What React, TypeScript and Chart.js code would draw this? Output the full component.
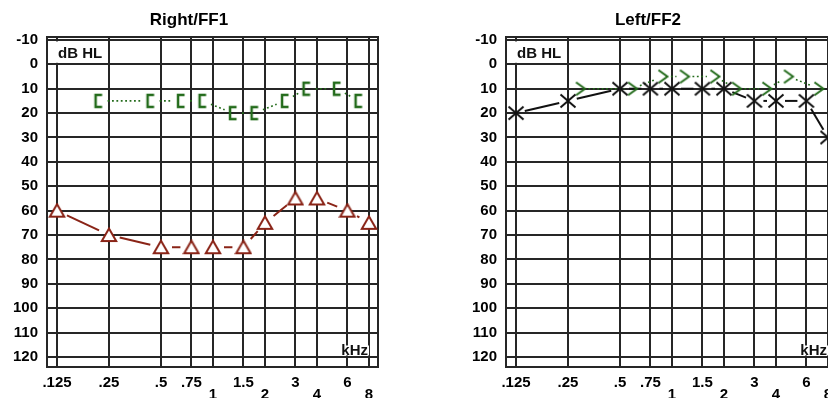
import React, { useEffect, useRef } from 'react';
import { Chart, registerables } from 'chart.js';

Chart.register(...registerables);

// ---------- data ----------
const FREQS = [0.125, 0.25, 0.5, 0.75, 1, 1.5, 2, 3, 4, 6, 8];
const FREQ_LABELS: (string | string[])[] = ['.125', '.25', '.5', '.75', ['', '1'], '1.5', ['', '2'], '3', ['', '4'], '6', ['', '8']];
const Y_TICKS = [-10, 0, 10, 20, 30, 40, 50, 60, 70, 80, 90, 100, 110, 120];

const RIGHT_TITLE = 'Right/FF1';
const LEFT_TITLE = 'Left/FF2';
const UNIT_LABEL = 'dB HL';
const FREQ_UNIT = 'kHz';

// Right/FF1 : triangles (air) and "[" (masked bone)
const RIGHT_AIR = [60, 70, 75, 75, 75, 75, 65, 55, 55, 60, 65];
const RIGHT_BONE = [null, 15, 15, 15, 15, 20, 20, 15, 10, 10, 15];
// Left/FF2 : crosses (air) and ">" (bone)
const LEFT_AIR = [20, 15, 10, 10, 10, 10, 10, 15, 15, 15, 30];
const LEFT_BONE = [null, 10, 10, 5, 5, 5, 10, 10, 5, 10, null];

// ---------- style ----------
const FONT = '"Liberation Sans", Arial, Helvetica, sans-serif';
const GRID = '#262626';
const RED = '#8a2417';
const BLACK = '#111111';
const GREEN = '#236b1b';
const X_MIN = 0.1094;
const X_MAX = 9.02;
const Y_MIN = -11.2;
const Y_MAX = 124.1;
const BRACKET_SHIFT_OCT = -0.2; // symbol drawn left of its frequency
const CHEVRON_SHIFT_OCT = 0.24; // symbol drawn right of its frequency

function marker(w: number, h: number, draw: (ctx: CanvasRenderingContext2D) => void) {
  const c = document.createElement('canvas');
  c.width = w;
  c.height = h;
  const ctx = c.getContext('2d')!;
  draw(ctx);
  return c;
}

function buildMarkers() {
  const tri = marker(18, 16, (ctx) => {
    ctx.beginPath();
    ctx.moveTo(9, 1.5);
    ctx.lineTo(16.2, 14);
    ctx.lineTo(1.8, 14);
    ctx.closePath();
    ctx.fillStyle = '#ffffff';
    ctx.fill();
    ctx.strokeStyle = RED;
    ctx.lineWidth = 2;
    ctx.stroke();
  });
  const cross = marker(18, 16, (ctx) => {
    ctx.strokeStyle = BLACK;
    ctx.lineWidth = 2;
    ctx.beginPath();
    ctx.moveTo(1.5, 1.5);
    ctx.lineTo(16.5, 14.5);
    ctx.moveTo(16.5, 1.5);
    ctx.lineTo(1.5, 14.5);
    ctx.stroke();
  });
  const bracket = marker(12, 16, (ctx) => {
    ctx.strokeStyle = GREEN;
    ctx.lineWidth = 2.5;
    ctx.beginPath();
    ctx.moveTo(9.5, 2);
    ctx.lineTo(3, 2);
    ctx.lineTo(3, 14);
    ctx.lineTo(9.5, 14);
    ctx.stroke();
  });
  const chevron = marker(14, 16, (ctx) => {
    ctx.strokeStyle = GREEN;
    ctx.lineWidth = 2;
    ctx.beginPath();
    ctx.moveTo(2.5, 1.5);
    ctx.lineTo(11.5, 8);
    ctx.lineTo(2.5, 14.5);
    ctx.stroke();
  });
  return { tri, cross, bracket, chevron };
}

function points(values: (number | null)[], shiftOct = 0) {
  const out: { x: number; y: number }[] = [];
  values.forEach((v, i) => {
    if (v !== null) out.push({ x: FREQS[i] * Math.pow(2, shiftOct), y: v });
  });
  return out;
}

const gapLinePlugin = {
  id: 'gapLines',
  beforeDatasetsDraw(chart: any) {
    const ctx = chart.ctx;
    const a = chart.chartArea;
    ctx.save();
    ctx.beginPath();
    ctx.rect(a.left, a.top, a.right - a.left, a.bottom - a.top);
    ctx.clip();
    chart.data.datasets.forEach((ds: any, i: number) => {
      const g = ds.gapLine;
      if (!g) return;
      const pts = chart.getDatasetMeta(i).data;
      ctx.strokeStyle = g.color;
      ctx.lineWidth = g.width;
      ctx.setLineDash(g.dash || []);
      ctx.lineCap = 'butt';
      for (let k = 0; k < pts.length - 1; k++) {
        const p = pts[k];
        const q = pts[k + 1];
        const dx = q.x - p.x;
        const dy = q.y - p.y;
        const len = Math.hypot(dx, dy);
        if (len <= 2 * g.gap + 1) continue;
        const ux = dx / len;
        const uy = dy / len;
        ctx.beginPath();
        ctx.moveTo(p.x + ux * g.gap, p.y + uy * g.gap);
        ctx.lineTo(q.x - ux * g.gap, q.y - uy * g.gap);
        ctx.stroke();
      }
    });
    ctx.restore();
  },
};

const decorPlugin = {
  id: 'panelDecor',
  beforeDatasetsDraw(chart: any, _args: any, opts: any) {
    const { ctx, chartArea: a, scales } = chart;
    const y = scales.y;
    ctx.save();
    ctx.strokeStyle = GRID;
    ctx.lineWidth = 2;
    ctx.strokeRect(a.left, a.top, a.right - a.left, a.bottom - a.top);

    ctx.font = `bold 15px ${FONT}`;
    ctx.textBaseline = 'middle';
    // unit label, top-left
    const y0 = y.getPixelForValue(Y_TICKS[0]);
    const y1 = y.getPixelForValue(Y_TICKS[1]);
    const tx = a.left + 11;
    const w = ctx.measureText(opts.unit).width;
    ctx.fillStyle = '#ffffff';
    ctx.fillRect(a.left + 2, y0 + 1.5, tx + w + 3 - (a.left + 2), y1 - y0 - 3);
    ctx.fillStyle = '#111111';
    ctx.textAlign = 'left';
    ctx.fillText(opts.unit, tx, (y0 + y1) / 2 + 2);

    // frequency unit, bottom-right
    const yb = y.getPixelForValue(Y_TICKS[Y_TICKS.length - 1]);
    const kw = ctx.measureText(opts.freqUnit).width;
    const kx = a.right - 10 - kw;
    const ky = yb - 6;
    ctx.fillStyle = '#ffffff';
    ctx.fillRect(kx - 1, ky - 5.5, kw + 2, 10);
    ctx.fillStyle = '#111111';
    ctx.fillText(opts.freqUnit, kx, ky);
    ctx.restore();
  },
};

function makeConfig(title: string, datasets: any[]): any {
  return {
    type: 'scatter',
    data: { datasets },
    plugins: [gapLinePlugin, decorPlugin],
    options: {
      responsive: false,
      animation: false,
      events: [],
      layout: { padding: { left: 0, top: 0, right: 46, bottom: 0 } },
      plugins: {
        legend: { display: false },
        tooltip: { enabled: false },
        title: {
          display: true,
          text: title,
          color: '#000000',
          font: { family: FONT, size: 17, weight: 'bold', lineHeight: 1.2 },
          padding: { top: 10, bottom: 6.6 },
        },
        panelDecor: { unit: UNIT_LABEL, freqUnit: FREQ_UNIT },
      },
      scales: {
        x: {
          type: 'logarithmic',
          min: X_MIN,
          max: X_MAX,
          bounds: 'data',
          afterBuildTicks: (scale: any) => {
            scale.ticks = FREQS.map((v) => ({ value: v }));
          },
          afterFit: (scale: any) => {
            scale.height = 31;
          },
          grid: { color: GRID, lineWidth: 2, drawTicks: false },
          border: { display: false },
          ticks: {
            autoSkip: false,
            maxRotation: 0,
            minRotation: 0,
            padding: 10,
            color: '#000000',
            font: { family: FONT, size: 15, weight: 'bold', lineHeight: 0.8 },
            callback: (_v: any, i: number) => FREQ_LABELS[i],
          },
        },
        y: {
          type: 'linear',
          reverse: true,
          min: Y_MIN,
          max: Y_MAX,
          bounds: 'data',
          afterBuildTicks: (scale: any) => {
            scale.ticks = Y_TICKS.map((v) => ({ value: v }));
          },
          afterFit: (scale: any) => {
            scale.width = 47;
          },
          grid: { color: GRID, lineWidth: 2, drawTicks: false },
          border: { display: false },
          ticks: {
            padding: 9,
            color: '#000000',
            font: { family: FONT, size: 15, weight: 'bold' },
            callback: (v: any) => String(v),
          },
        },
      },
    },
  };
}

export default function App() {
  const leftRef = useRef<HTMLCanvasElement>(null);
  const rightRef = useRef<HTMLCanvasElement>(null);

  useEffect(() => {
    const m = buildMarkers();
    const rightEar = makeConfig(RIGHT_TITLE, [
      {
        label: 'Air',
        data: points(RIGHT_AIR),
        pointStyle: m.tri,
        pointRadius: 7,
        gapLine: { color: RED, width: 2, gap: 11 },
      },
      {
        label: 'Bone',
        data: points(RIGHT_BONE, BRACKET_SHIFT_OCT),
        pointStyle: m.bracket,
        pointRadius: 6,
        gapLine: { color: GREEN, width: 1.6, gap: 9, dash: [1.8, 2.6] },
      },
    ]);
    const leftEar = makeConfig(LEFT_TITLE, [
      {
        label: 'Air',
        data: points(LEFT_AIR),
        pointStyle: m.cross,
        pointRadius: 7,
        gapLine: { color: BLACK, width: 2, gap: 9 },
      },
      {
        label: 'Bone',
        data: points(LEFT_BONE, CHEVRON_SHIFT_OCT),
        pointStyle: m.chevron,
        pointRadius: 6,
        gapLine: { color: GREEN, width: 1.6, gap: 8, dash: [1.8, 2.6] },
      },
    ]);
    const c1 = new Chart(leftRef.current!, rightEar);
    const c2 = new Chart(rightRef.current!, leftEar);
    return () => {
      c1.destroy();
      c2.destroy();
    };
  }, []);

  return (
    <div
      style={{
        position: 'fixed',
        left: 0,
        top: 0,
        width: 828,
        height: 398,
        overflow: 'hidden',
        background: '#ffffff',
      }}
    >
      <canvas
        ref={leftRef}
        width={424}
        height={398}
        style={{ position: 'absolute', left: 0, top: 0, width: 424, height: 398 }}
      />
      <canvas
        ref={rightRef}
        width={424}
        height={398}
        style={{ position: 'absolute', left: 459, top: 0, width: 424, height: 398 }}
      />
    </div>
  );
}
